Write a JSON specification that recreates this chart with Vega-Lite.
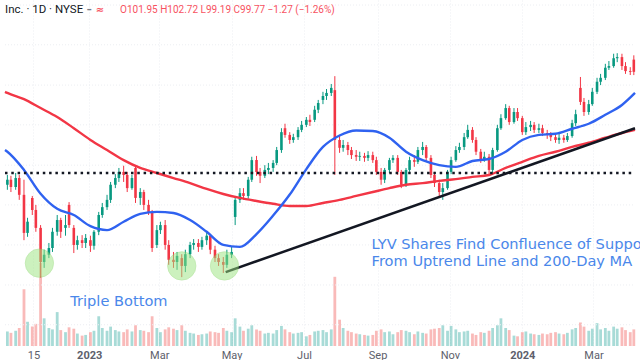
{
"$schema":"https://vega.github.io/schema/vega-lite/v6.json",
"width":640,"height":346,"autosize":"none",
"padding":{"left":0,"top":0,"right":0,"bottom":14},
"background":"#ffffff",
"config":{"view":{"stroke":null}},
"datasets":{
"candles":[
{"d":"2022-10-24","o":79.6,"h":81.35,"l":78.7,"c":80.5,"v":2.1},
{"d":"2022-10-27","o":80.5,"h":81.2,"l":78.3,"c":79.2,"v":1.9},
{"d":"2022-10-31","o":79.2,"h":81.7,"l":78.7,"c":80.8,"v":2.2},
{"d":"2022-11-03","o":80.8,"h":81.35,"l":76.9,"c":77.8,"v":2.6},
{"d":"2022-11-07","o":77.8,"h":80.5,"l":69.7,"c":71.0,"v":8.2},
{"d":"2022-11-10","o":71.0,"h":73.7,"l":70.3,"c":73.0,"v":3.5},
{"d":"2022-11-14","o":77.25,"h":77.6,"l":74.2,"c":75.1,"v":2.8},
{"d":"2022-11-17","o":75.1,"h":76.0,"l":71.2,"c":71.9,"v":3.2},
{"d":"2022-11-21","o":71.9,"h":72.4,"l":63.0,"c":65.8,"v":12.0},
{"d":"2022-11-24","o":65.8,"h":68.0,"l":64.75,"c":67.1,"v":4.0},
{"d":"2022-11-28","o":67.1,"h":69.2,"l":66.5,"c":68.3,"v":2.6},
{"d":"2022-12-01","o":68.3,"h":71.9,"l":67.6,"c":71.2,"v":2.4},
{"d":"2022-12-05","o":71.2,"h":74.2,"l":70.5,"c":73.3,"v":4.9},
{"d":"2022-12-08","o":73.3,"h":73.7,"l":70.1,"c":71.2,"v":2.3},
{"d":"2022-12-12","o":71.9,"h":74.2,"l":70.5,"c":72.4,"v":2.0},
{"d":"2022-12-15","o":76.0,"h":76.5,"l":71.9,"c":72.4,"v":2.7},
{"d":"2022-12-19","o":71.9,"h":72.4,"l":67.4,"c":68.85,"v":2.5},
{"d":"2022-12-22","o":68.85,"h":70.5,"l":68.0,"c":69.7,"v":1.8},
{"d":"2022-12-26","o":69.7,"h":70.6,"l":68.3,"c":69.2,"v":1.5},
{"d":"2022-12-29","o":69.2,"h":70.8,"l":68.3,"c":70.1,"v":1.6},
{"d":"2023-01-02","o":69.7,"h":70.5,"l":67.6,"c":68.7,"v":2.0},
{"d":"2023-01-05","o":68.7,"h":71.5,"l":68.0,"c":71.2,"v":2.2},
{"d":"2023-01-09","o":71.2,"h":74.75,"l":70.6,"c":74.2,"v":4.3},
{"d":"2023-01-12","o":74.2,"h":76.35,"l":73.7,"c":75.6,"v":2.6},
{"d":"2023-01-16","o":75.6,"h":77.8,"l":75.1,"c":76.9,"v":2.2},
{"d":"2023-01-19","o":76.9,"h":80.1,"l":76.35,"c":79.6,"v":2.8},
{"d":"2023-01-23","o":79.6,"h":81.5,"l":79.0,"c":80.8,"v":2.3},
{"d":"2023-01-26","o":80.8,"h":82.6,"l":80.1,"c":81.9,"v":2.1},
{"d":"2023-01-30","o":81.9,"h":83.0,"l":80.1,"c":81.35,"v":2.0},
{"d":"2023-02-02","o":81.35,"h":81.9,"l":78.3,"c":79.0,"v":2.4},
{"d":"2023-02-06","o":79.0,"h":81.35,"l":78.7,"c":80.8,"v":2.1},
{"d":"2023-02-09","o":82.6,"h":83.1,"l":76.35,"c":77.25,"v":3.0},
{"d":"2023-02-13","o":77.25,"h":79.0,"l":76.0,"c":78.3,"v":2.3},
{"d":"2023-02-16","o":78.3,"h":78.7,"l":75.1,"c":76.0,"v":2.2},
{"d":"2023-02-20","o":76.0,"h":76.9,"l":74.2,"c":74.75,"v":2.0},
{"d":"2023-02-23","o":74.75,"h":75.1,"l":67.6,"c":68.3,"v":4.3},
{"d":"2023-02-27","o":68.85,"h":72.4,"l":68.3,"c":71.5,"v":2.6},
{"d":"2023-03-02","o":71.5,"h":73.0,"l":70.8,"c":72.4,"v":2.0},
{"d":"2023-03-06","o":72.4,"h":73.3,"l":68.0,"c":68.85,"v":2.4},
{"d":"2023-03-09","o":68.85,"h":69.7,"l":65.3,"c":66.2,"v":2.7},
{"d":"2023-03-13","o":66.2,"h":67.6,"l":64.75,"c":65.8,"v":2.5},
{"d":"2023-03-16","o":65.8,"h":67.6,"l":64.4,"c":66.9,"v":2.3},
{"d":"2023-03-20","o":66.5,"h":67.2,"l":63.1,"c":65.1,"v":3.0},
{"d":"2023-03-23","o":65.1,"h":68.0,"l":64.0,"c":67.2,"v":2.2},
{"d":"2023-03-27","o":67.2,"h":69.4,"l":66.5,"c":68.85,"v":1.9},
{"d":"2023-03-30","o":68.85,"h":69.9,"l":68.0,"c":69.2,"v":1.8},
{"d":"2023-04-03","o":69.2,"h":69.9,"l":67.6,"c":68.5,"v":1.6},
{"d":"2023-04-06","o":68.5,"h":70.3,"l":68.0,"c":69.7,"v":1.7},
{"d":"2023-04-10","o":69.7,"h":71.0,"l":68.85,"c":70.5,"v":1.8},
{"d":"2023-04-13","o":70.5,"h":70.8,"l":67.2,"c":68.0,"v":2.1},
{"d":"2023-04-17","o":68.0,"h":68.7,"l":65.8,"c":66.5,"v":2.0},
{"d":"2023-04-20","o":66.5,"h":67.2,"l":65.1,"c":65.8,"v":1.9},
{"d":"2023-04-24","o":65.8,"h":66.7,"l":63.85,"c":65.3,"v":2.6},
{"d":"2023-04-27","o":65.3,"h":68.0,"l":64.75,"c":67.1,"v":2.2},
{"d":"2023-05-01","o":67.1,"h":68.5,"l":66.5,"c":67.6,"v":2.0},
{"d":"2023-05-04","o":73.85,"h":77.25,"l":72.4,"c":76.9,"v":4.0},
{"d":"2023-05-08","o":76.9,"h":79.0,"l":76.35,"c":78.1,"v":2.8},
{"d":"2023-05-11","o":78.1,"h":79.0,"l":76.9,"c":77.6,"v":2.2},
{"d":"2023-05-15","o":77.6,"h":81.0,"l":77.1,"c":80.5,"v":2.5},
{"d":"2023-05-18","o":80.5,"h":84.6,"l":80.1,"c":84.0,"v":3.0},
{"d":"2023-05-22","o":84.0,"h":84.75,"l":81.2,"c":81.9,"v":2.4},
{"d":"2023-05-25","o":81.9,"h":82.6,"l":79.9,"c":81.2,"v":2.2},
{"d":"2023-05-29","o":81.2,"h":83.1,"l":80.8,"c":82.25,"v":1.8},
{"d":"2023-06-01","o":82.25,"h":83.5,"l":81.5,"c":82.6,"v":1.9},
{"d":"2023-06-05","o":82.6,"h":84.0,"l":81.9,"c":83.5,"v":1.8},
{"d":"2023-06-08","o":83.5,"h":86.35,"l":83.1,"c":85.8,"v":2.3},
{"d":"2023-06-12","o":85.8,"h":89.7,"l":85.3,"c":89.0,"v":2.9},
{"d":"2023-06-15","o":89.7,"h":90.5,"l":88.0,"c":88.5,"v":2.4},
{"d":"2023-06-19","o":88.5,"h":89.0,"l":86.9,"c":87.6,"v":2.0},
{"d":"2023-06-22","o":87.6,"h":88.7,"l":87.1,"c":88.1,"v":1.8},
{"d":"2023-06-26","o":88.1,"h":89.9,"l":87.6,"c":89.4,"v":1.9},
{"d":"2023-06-29","o":89.4,"h":91.0,"l":89.0,"c":90.3,"v":2.0},
{"d":"2023-07-03","o":90.3,"h":91.7,"l":89.9,"c":91.2,"v":1.4},
{"d":"2023-07-06","o":91.2,"h":92.1,"l":90.1,"c":90.8,"v":1.6},
{"d":"2023-07-10","o":91.2,"h":93.7,"l":90.8,"c":93.0,"v":2.1},
{"d":"2023-07-13","o":93.0,"h":94.75,"l":92.4,"c":94.2,"v":2.2},
{"d":"2023-07-17","o":94.75,"h":96.2,"l":94.0,"c":95.45,"v":2.3},
{"d":"2023-07-20","o":95.45,"h":96.7,"l":94.75,"c":96.0,"v":2.0},
{"d":"2023-07-24","o":96.0,"h":97.6,"l":95.45,"c":96.9,"v":2.4},
{"d":"2023-07-27","o":96.5,"h":99.0,"l":81.35,"c":87.6,"v":10.0},
{"d":"2023-07-31","o":87.6,"h":88.5,"l":85.3,"c":86.2,"v":3.8},
{"d":"2023-08-03","o":86.2,"h":87.6,"l":85.5,"c":86.7,"v":2.6},
{"d":"2023-08-07","o":86.7,"h":87.25,"l":84.9,"c":85.8,"v":2.2},
{"d":"2023-08-10","o":85.8,"h":86.35,"l":84.2,"c":84.9,"v":2.0},
{"d":"2023-08-14","o":84.9,"h":85.8,"l":83.85,"c":84.6,"v":1.8},
{"d":"2023-08-17","o":84.6,"h":85.5,"l":83.85,"c":84.75,"v":1.7},
{"d":"2023-08-21","o":84.75,"h":85.3,"l":83.7,"c":84.4,"v":1.6},
{"d":"2023-08-24","o":84.4,"h":85.6,"l":83.85,"c":84.9,"v":1.5},
{"d":"2023-08-28","o":84.9,"h":85.5,"l":83.5,"c":84.0,"v":1.6},
{"d":"2023-08-31","o":84.0,"h":84.6,"l":81.35,"c":81.9,"v":2.2},
{"d":"2023-09-04","o":81.9,"h":82.6,"l":79.6,"c":80.5,"v":2.4},
{"d":"2023-09-07","o":80.5,"h":82.6,"l":79.9,"c":82.25,"v":2.0},
{"d":"2023-09-11","o":82.25,"h":84.4,"l":81.7,"c":84.0,"v":2.1},
{"d":"2023-09-14","o":84.0,"h":84.9,"l":83.5,"c":84.4,"v":1.7},
{"d":"2023-09-18","o":84.4,"h":84.9,"l":81.35,"c":81.9,"v":2.0},
{"d":"2023-09-21","o":81.9,"h":82.25,"l":79.0,"c":79.6,"v":2.3},
{"d":"2023-09-25","o":79.6,"h":82.6,"l":79.2,"c":82.25,"v":2.2},
{"d":"2023-09-28","o":82.25,"h":84.6,"l":81.9,"c":84.0,"v":2.0},
{"d":"2023-10-02","o":84.0,"h":84.9,"l":82.8,"c":83.7,"v":1.7},
{"d":"2023-10-05","o":83.7,"h":86.35,"l":83.3,"c":85.8,"v":2.1},
{"d":"2023-10-09","o":85.8,"h":87.25,"l":84.9,"c":86.35,"v":1.9},
{"d":"2023-10-12","o":86.35,"h":86.7,"l":83.85,"c":84.4,"v":1.8},
{"d":"2023-10-16","o":84.4,"h":84.9,"l":80.8,"c":81.35,"v":2.4},
{"d":"2023-10-19","o":81.35,"h":81.9,"l":79.2,"c":79.9,"v":2.5},
{"d":"2023-10-23","o":79.9,"h":80.5,"l":77.4,"c":78.3,"v":2.6},
{"d":"2023-10-26","o":78.3,"h":79.9,"l":76.9,"c":79.0,"v":3.0},
{"d":"2023-10-30","o":79.0,"h":82.25,"l":78.7,"c":81.9,"v":2.2},
{"d":"2023-11-02","o":81.9,"h":84.6,"l":81.5,"c":84.0,"v":2.9},
{"d":"2023-11-06","o":84.0,"h":86.5,"l":83.7,"c":85.8,"v":2.4},
{"d":"2023-11-09","o":85.8,"h":87.1,"l":85.3,"c":86.35,"v":2.0},
{"d":"2023-11-13","o":86.35,"h":88.85,"l":85.8,"c":88.1,"v":2.1},
{"d":"2023-11-16","o":88.1,"h":90.3,"l":87.8,"c":89.4,"v":2.2},
{"d":"2023-11-20","o":89.4,"h":89.9,"l":87.1,"c":87.6,"v":1.8},
{"d":"2023-11-23","o":87.6,"h":88.1,"l":84.9,"c":85.5,"v":1.6},
{"d":"2023-11-27","o":85.5,"h":86.0,"l":83.5,"c":84.0,"v":2.0},
{"d":"2023-11-30","o":84.0,"h":85.5,"l":83.7,"c":84.6,"v":1.9},
{"d":"2023-12-04","o":84.6,"h":85.1,"l":81.5,"c":82.25,"v":2.2},
{"d":"2023-12-07","o":82.25,"h":86.2,"l":81.7,"c":85.8,"v":2.6},
{"d":"2023-12-11","o":85.8,"h":90.3,"l":85.5,"c":89.7,"v":3.0},
{"d":"2023-12-14","o":89.7,"h":92.2,"l":89.4,"c":91.5,"v":4.0},
{"d":"2023-12-18","o":91.5,"h":94.0,"l":91.2,"c":93.3,"v":2.6},
{"d":"2023-12-21","o":93.3,"h":93.7,"l":90.3,"c":90.8,"v":2.3},
{"d":"2023-12-25","o":90.8,"h":93.3,"l":90.5,"c":92.6,"v":1.5},
{"d":"2023-12-28","o":92.6,"h":93.3,"l":91.0,"c":91.5,"v":1.4},
{"d":"2024-01-01","o":91.5,"h":91.9,"l":88.5,"c":89.0,"v":2.0},
{"d":"2024-01-04","o":89.0,"h":90.8,"l":88.5,"c":89.9,"v":2.1},
{"d":"2024-01-08","o":89.9,"h":91.0,"l":89.2,"c":90.3,"v":1.8},
{"d":"2024-01-11","o":90.3,"h":90.8,"l":88.85,"c":89.4,"v":1.7},
{"d":"2024-01-15","o":89.4,"h":90.5,"l":88.85,"c":89.7,"v":1.6},
{"d":"2024-01-18","o":89.7,"h":90.3,"l":88.3,"c":88.85,"v":1.8},
{"d":"2024-01-22","o":88.85,"h":89.4,"l":87.8,"c":88.5,"v":1.7},
{"d":"2024-01-25","o":88.5,"h":89.0,"l":87.4,"c":88.1,"v":1.9},
{"d":"2024-01-29","o":88.1,"h":88.7,"l":87.1,"c":87.6,"v":2.0},
{"d":"2024-02-01","o":87.6,"h":88.7,"l":86.9,"c":88.0,"v":1.8},
{"d":"2024-02-05","o":88.0,"h":88.5,"l":87.1,"c":87.6,"v":1.7},
{"d":"2024-02-08","o":87.6,"h":88.85,"l":87.25,"c":88.3,"v":1.9},
{"d":"2024-02-12","o":88.3,"h":91.2,"l":88.0,"c":90.6,"v":2.4},
{"d":"2024-02-15","o":90.6,"h":93.0,"l":90.1,"c":92.2,"v":2.6},
{"d":"2024-02-19","o":96.9,"h":98.85,"l":93.85,"c":94.4,"v":3.4},
{"d":"2024-02-22","o":94.4,"h":95.1,"l":91.9,"c":92.6,"v":2.8},
{"d":"2024-02-26","o":92.6,"h":94.75,"l":92.1,"c":94.0,"v":2.2},
{"d":"2024-02-29","o":94.0,"h":96.9,"l":93.7,"c":96.2,"v":2.5},
{"d":"2024-03-04","o":96.2,"h":98.7,"l":95.8,"c":98.0,"v":3.3},
{"d":"2024-03-07","o":98.0,"h":99.4,"l":97.4,"c":98.7,"v":2.4},
{"d":"2024-03-11","o":98.7,"h":101.2,"l":98.3,"c":100.5,"v":2.6},
{"d":"2024-03-14","o":100.5,"h":101.7,"l":100.1,"c":100.8,"v":2.2},
{"d":"2024-03-18","o":100.8,"h":103.0,"l":100.5,"c":102.2,"v":2.8},
{"d":"2024-03-21","o":102.2,"h":103.1,"l":101.5,"c":102.4,"v":2.5},
{"d":"2024-03-25","o":102.4,"h":103.0,"l":100.1,"c":100.8,"v":2.7},
{"d":"2024-03-28","o":100.8,"h":101.5,"l":99.4,"c":99.9,"v":2.3},
{"d":"2024-04-01","o":99.9,"h":100.6,"l":99.2,"c":99.75,"v":2.0},
{"d":"2024-04-04","o":101.95,"h":102.72,"l":99.19,"c":99.77,"v":2.4}
],
"blue":[
{"d":"2022-10-22","p":85.8},{"d":"2022-10-24","p":85.5},{"d":"2022-11-07","p":82.25},{"d":"2022-11-21","p":78.0},
{"d":"2022-12-05","p":75.3},{"d":"2022-12-19","p":74.2},{"d":"2023-01-02","p":72.2},{"d":"2023-01-16","p":71.5},
{"d":"2023-01-30","p":73.0},{"d":"2023-02-13","p":74.4},{"d":"2023-02-27","p":74.75},{"d":"2023-03-13","p":74.55},
{"d":"2023-03-27","p":73.3},{"d":"2023-04-10","p":71.2},{"d":"2023-04-24","p":68.85},{"d":"2023-05-08","p":68.5},
{"d":"2023-05-22","p":70.8},{"d":"2023-06-05","p":74.1},{"d":"2023-06-19","p":77.85},{"d":"2023-07-03","p":82.4},
{"d":"2023-07-17","p":86.35},{"d":"2023-07-31","p":88.4},{"d":"2023-08-14","p":89.3},{"d":"2023-08-28","p":89.2},
{"d":"2023-09-11","p":88.0},{"d":"2023-09-25","p":85.5},{"d":"2023-10-09","p":84.0},{"d":"2023-10-23","p":83.1},
{"d":"2023-11-06","p":82.8},{"d":"2023-11-20","p":83.85},{"d":"2023-12-04","p":84.2},{"d":"2023-12-18","p":85.5},
{"d":"2024-01-01","p":87.6},{"d":"2024-01-15","p":88.5},{"d":"2024-01-29","p":88.7},{"d":"2024-02-12","p":89.6},
{"d":"2024-02-26","p":90.5},{"d":"2024-03-11","p":92.1},{"d":"2024-03-25","p":93.85},{"d":"2024-04-05","p":96.0}
],
"red":[
{"d":"2022-10-22","p":96.2},{"d":"2022-10-24","p":96.0},{"d":"2022-11-07","p":94.9},{"d":"2022-11-21","p":93.3},
{"d":"2022-12-05","p":91.7},{"d":"2022-12-19","p":89.7},{"d":"2023-01-02","p":87.6},{"d":"2023-01-16","p":85.8},
{"d":"2023-01-30","p":84.0},{"d":"2023-02-13","p":82.6},{"d":"2023-02-27","p":81.7},{"d":"2023-03-13","p":80.8},
{"d":"2023-03-27","p":79.9},{"d":"2023-04-10","p":78.85},{"d":"2023-04-24","p":77.95},{"d":"2023-05-08","p":77.25},
{"d":"2023-05-22","p":76.7},{"d":"2023-06-05","p":76.2},{"d":"2023-06-19","p":75.8},{"d":"2023-07-03","p":75.8},
{"d":"2023-07-17","p":76.35},{"d":"2023-07-31","p":76.9},{"d":"2023-08-14","p":77.6},{"d":"2023-08-28","p":78.3},
{"d":"2023-09-11","p":79.0},{"d":"2023-09-25","p":79.6},{"d":"2023-10-09","p":79.9},{"d":"2023-10-23","p":80.3},
{"d":"2023-11-06","p":80.6},{"d":"2023-11-20","p":81.0},{"d":"2023-12-04","p":81.35},{"d":"2023-12-18","p":82.6},
{"d":"2024-01-01","p":83.7},{"d":"2024-01-15","p":84.75},{"d":"2024-01-29","p":85.5},{"d":"2024-02-12","p":86.35},
{"d":"2024-02-26","p":87.1},{"d":"2024-03-11","p":88.0},{"d":"2024-03-25","p":88.85},{"d":"2024-04-05","p":89.4}
]
},
"encoding":{"x":{"field":"d","type":"temporal",
 "scale":{"type":"utc","domain":[{"year":2022,"month":10,"date":22,"utc":true},{"year":2024,"month":4,"date":5,"utc":true}]},
 "axis":{"title":null,"domain":false,"ticks":false,"labelPadding":3,"labelFontSize":11,"labelFont":"Roboto","labelColor":"#5d606b",
  "labelAngle":0,"labelOverlap":false,"labelFlush":false,
  "labelFontWeight":{"condition":{"test":"utcmonth(datum.value)==0","value":"bold"},"value":"normal"},
  "labelExpr":"utcmonth(datum.value)==0 ? utcFormat(datum.value,'%Y') : (utcdate(datum.value)==15 ? '15' : utcFormat(datum.value,'%b'))",
  "values":[{"year":2022,"month":11,"date":15,"utc":true},{"year":2023,"month":1,"date":1,"utc":true},{"year":2023,"month":3,"date":1,"utc":true},{"year":2023,"month":5,"date":1,"utc":true},{"year":2023,"month":7,"date":1,"utc":true},{"year":2023,"month":9,"date":1,"utc":true},{"year":2023,"month":11,"date":1,"utc":true},{"year":2024,"month":1,"date":1,"utc":true},{"year":2024,"month":3,"date":1,"utc":true}],
  "grid":true,"gridColor":"#eceef2","gridDash":[1,2]}}},
"resolve":{"scale":{"y":"independent"}},
"layer":[
 {"data":{"name":"candles"},"mark":{"type":"bar","size":2.8,"opacity":0.4},
  "encoding":{"y":{"field":"v","type":"quantitative","scale":{"domain":[0,50]},"axis":null},
   "color":{"condition":{"test":"datum.c >= datum.o","value":"#26a69a"},"value":"#ef5350"}}},
 {"layer":[
  {"data":{"values":[{"d":"2022-10-22","d2":"2024-04-05","gy":111.7},{"d":"2022-10-22","d2":"2024-04-05","gy":104.6},{"d":"2022-10-22","d2":"2024-04-05","gy":97.4},{"d":"2022-10-22","d2":"2024-04-05","gy":90.3},{"d":"2022-10-22","d2":"2024-04-05","gy":83.1},{"d":"2022-10-22","d2":"2024-04-05","gy":76.0},{"d":"2022-10-22","d2":"2024-04-05","gy":68.85},{"d":"2022-10-22","d2":"2024-04-05","gy":61.7},{"d":"2022-10-22","d2":"2024-04-05","gy":54.6}]},
   "mark":{"type":"rule","color":"#eceef2","strokeDash":[1,2],"strokeWidth":1},
   "encoding":{"x2":{"field":"d2"},"y":{"field":"gy","type":"quantitative","scale":{"domain":[50.8,112.6]},"axis":null}}},
  {"data":{"name":"candles"},"mark":{"type":"rule","strokeWidth":1},
   "encoding":{"y":{"field":"l","type":"quantitative","scale":{"domain":[50.8,112.6]},"axis":null},"y2":{"field":"h"},
    "color":{"condition":{"test":"datum.c >= datum.o","value":"#089981"},"value":"#f23645"}}},
  {"data":{"name":"candles"},"mark":{"type":"bar","size":2.6},
   "encoding":{"y":{"field":"o","type":"quantitative","scale":{"domain":[50.8,112.6]},"axis":null},"y2":{"field":"c"},
    "color":{"condition":{"test":"datum.c >= datum.o","value":"#089981"},"value":"#f23645"}}},
  {"data":{"name":"red"},"mark":{"type":"line","color":"#f23645","strokeWidth":2.4,"interpolate":"monotone","clip":true},
   "encoding":{"y":{"field":"p","type":"quantitative","scale":{"domain":[50.8,112.6]},"axis":null}}},
  {"data":{"name":"blue"},"mark":{"type":"line","color":"#2f62f0","strokeWidth":2.4,"interpolate":"monotone","clip":true},
   "encoding":{"y":{"field":"p","type":"quantitative","scale":{"domain":[50.8,112.6]},"axis":null}}},
  {"data":{"values":[{"d":"2022-10-22","d2":"2024-04-05","p":81.7}]},
   "mark":{"type":"rule","color":"#131722","strokeWidth":2.5,"strokeDash":[2.5,3.8]},
   "encoding":{"x2":{"field":"d2"},"y":{"field":"p","type":"quantitative","scale":{"domain":[50.8,112.6]},"axis":null}}},
  {"data":{"values":[{"d":"2023-04-26","p":64.0},{"d":"2024-04-05","p":89.7}]},
   "mark":{"type":"line","color":"#131722","strokeWidth":2.5,"clip":true},
   "encoding":{"y":{"field":"p","type":"quantitative","scale":{"domain":[50.8,112.6]},"axis":null}}},
  {"data":{"values":[{"d":"2022-11-20","p":65.6},{"d":"2023-03-20","p":65.1},{"d":"2023-04-25","p":65.1}]},
   "mark":{"type":"point","shape":"circle","filled":true,"size":800,"color":"#9be57f","opacity":0.5,"stroke":"#7ed35e","strokeWidth":1,"strokeOpacity":0.8},
   "encoding":{"y":{"field":"p","type":"quantitative","scale":{"domain":[50.8,112.6]},"axis":null}}},
  {"data":{"values":[{"d":"2022-12-16","p":58.7,"t":"Triple Bottom"},{"d":"2023-08-27","p":68.8,"t":"LYV Shares Find Confluence of Support"},{"d":"2023-08-27","p":65.75,"t":"From Uptrend Line and 200-Day MA"}]},
   "mark":{"type":"text","align":"left","baseline":"middle","font":"DejaVu Sans","fontSize":14.6,"color":"#4a87ea"},
   "encoding":{"y":{"field":"p","type":"quantitative","scale":{"domain":[50.8,112.6]},"axis":null},"text":{"field":"t"}}},
  {"data":{"values":[{"d":"2022-10-22","p":110.8,"t":"Inc. · 1D · NYSE"}]},
   "mark":{"type":"text","align":"left","baseline":"middle","font":"Roboto","fontSize":11.5,"color":"#131722"},
   "encoding":{"y":{"field":"p","type":"quantitative","scale":{"domain":[50.8,112.6]},"axis":null},"text":{"field":"t"}}},
  {"data":{"values":[{"d":"2023-01-01","p":110.8,"t":"–","k":"a"},{"d":"2023-01-10","p":110.8,"t":"≈","k":"b"}]},
   "mark":{"type":"text","align":"center","baseline":"middle","font":"DejaVu Sans","fontSize":10,"fontWeight":"bold"},
   "encoding":{"y":{"field":"p","type":"quantitative","scale":{"domain":[50.8,112.6]},"axis":null},"text":{"field":"t"},
    "color":{"condition":{"test":"datum.k == 'a'","value":"#787b86"},"value":"#f7525f"}}},
  {"data":{"values":[{"d":"2023-01-27","p":110.8,"t":"O101.95 H102.72 L99.19 C99.77 −1.27 (−1.26%)"}]},
   "mark":{"type":"text","align":"left","baseline":"middle","font":"Roboto","fontSize":10,"color":"#f7525f"},
   "encoding":{"y":{"field":"p","type":"quantitative","scale":{"domain":[50.8,112.6]},"axis":null},"text":{"field":"t"}}}
 ]}
]
}
